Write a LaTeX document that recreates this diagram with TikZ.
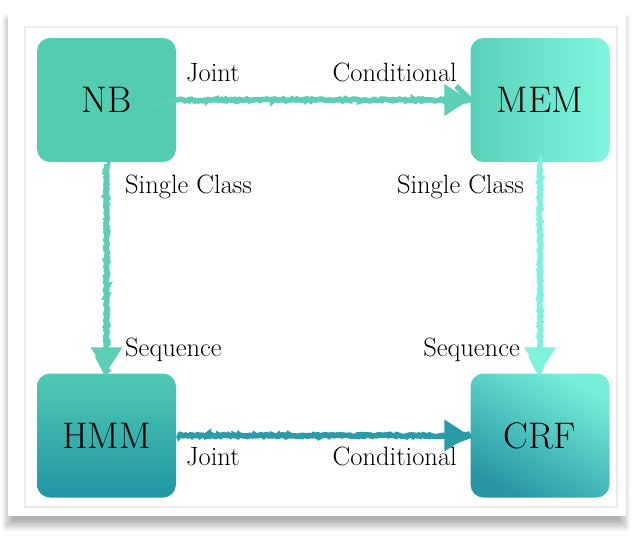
\documentclass[tikz,border=0pt]{standalone}
\usepackage{xcolor}
\definecolor{nbgreen}{HTML}{52CDB2}
\definecolor{memleft}{HTML}{57D1B8}
\definecolor{memright}{HTML}{80F6DE}
\definecolor{hmmtop}{HTML}{50CAB3}
\definecolor{hmmbot}{HTML}{2096A5}
\definecolor{crftop}{HTML}{74EFD9}
\definecolor{crfbot}{HTML}{2896A5}
\definecolor{arrnb}{HTML}{5DCFB6}
\definecolor{arrmem}{HTML}{7EF2DC}
\definecolor{arrhmm}{HTML}{2A9CA8}
\usepackage{tikz}
\usetikzlibrary{arrows.meta,decorations.pathmorphing,shadows.blur}

\tikzset{
  model/.style={rounded corners=13pt, minimum width=139pt, minimum height=124pt,
    inner sep=0pt, font=\fontsize{37}{40}\selectfont},
  lbl/.style={inner sep=0pt, font=\fontsize{26.5}{30}\selectfont},
  tipline/.style={line width=4pt, shorten <=3pt, shorten >=1pt,
    -{Triangle[width=31pt,length=25pt]}},
  rough/.style={line width=5.5pt, shorten <=2pt, shorten >=20pt,
    decorate, decoration={random steps, segment length=1.6pt, amplitude=1pt}}
}

\begin{document}
\begin{tikzpicture}[x=1pt, y=-1pt]
            \useasboundingbox (0, 0) rectangle (634, 544);
            % card
            \fill[white, blur shadow={shadow xshift=-1pt, shadow yshift=-10pt,
                shadow opacity=30, shadow blur radius=6pt, shadow blur steps=14}]
                (8, 9) rectangle (626, 516);
            \draw[black!8, line width=1.5pt] (25, 27) rectangle (617, 507);
            % models
            \node[model, fill=nbgreen] (nb) at (106.5, 100) {NB};
            \node[model, left color=memleft, right color=memright] (mem) at (540, 100) {MEM};
            \node[model, top color=hmmtop, bottom color=hmmbot] (hmm) at (106.5, 435.5) {HMM};
            \node[model, top color=crftop, bottom color=crfbot, shading angle=-30] (crf) at (540, 435.5) {CRF};
            % arrows
            \draw[tipline, arrnb] (nb) -- (mem);
            \draw[rough, arrnb] (nb) -- (mem);
            \draw[tipline, arrnb] (nb) -- (hmm);
            \draw[rough, arrnb] (nb) -- (hmm);
            \draw[tipline, arrmem] (mem) -- (crf);
            \draw[rough, arrmem] (mem) -- (crf);
            \draw[tipline, arrhmm] (hmm) -- (crf);
            \draw[rough, arrhmm] (hmm) -- (crf);
            % labels
            \node[lbl, anchor=base west] (jtop) at (186, 81) {Joint};
            \node[lbl, anchor=base east] (ctop) at (457, 81) {Conditional};
            \node[lbl, anchor=base west] (scl) at (125, 193) {Single Class};
            \node[lbl, anchor=base east] (scr) at (524, 193) {Single Class};
            \node[lbl, anchor=base west] (sql) at (125, 356) {Sequence};
            \node[lbl, anchor=base east] (sqr) at (520, 356) {Sequence};
            \node[lbl, anchor=base west] (jbot) at (186, 465) {Joint};
            \node[lbl, anchor=base east] (cbot) at (457, 465) {Conditional};
        \end{tikzpicture}
\end{document}
